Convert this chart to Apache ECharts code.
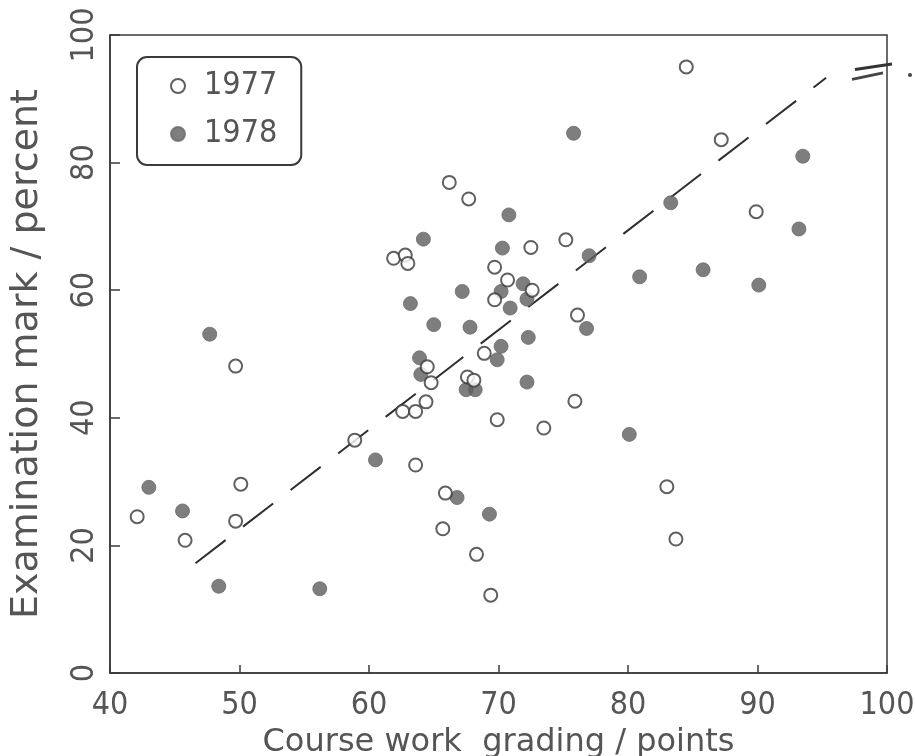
<!DOCTYPE html>
<html>
<head>
<meta charset="utf-8">
<script src="https://cdn.jsdelivr.net/npm/echarts@6/dist/echarts.min.js"></script>
<style>
  html, body { margin: 0; padding: 0; background: #ffffff; }
  #chart { width: 915px; height: 756px; }
</style>
</head>
<body>
<div id="chart"></div>
<script>
// Axis ticks
const xTicks = [40, 50, 60, 70, 80, 90, 100];
const yTicks = [0, 20, 40, 60, 80, 100];

// 1977 cohort: course work grading (points) and examination mark (percent)
const grades1977 = [42.1, 45.8, 49.7, 50.1, 49.7, 58.9, 62.6, 63.6, 64.4, 64.8,
                    64.5, 63.6, 61.9, 62.8, 63.0, 66.2, 67.7, 65.9, 65.7, 68.3,
                    69.4, 69.9, 67.6, 68.1, 68.9, 69.7, 70.7, 72.6, 69.7, 72.5,
                    75.2, 76.1, 75.9, 73.5, 83.0, 83.7, 84.5, 87.2, 89.9];
const marks1977  = [24.5, 20.8, 23.8, 29.6, 48.1, 36.5, 41.0, 41.0, 42.5, 45.5,
                    48.0, 32.6, 65.0, 65.5, 64.2, 76.9, 74.3, 28.2, 22.6, 18.6,
                    12.2, 39.7, 46.4, 45.9, 50.1, 63.6, 61.6, 60.0, 58.5, 66.7,
                    67.9, 56.1, 42.6, 38.4, 29.2, 21.0, 95.0, 83.6, 72.3];

// 1978 cohort
const grades1978 = [43.0, 45.6, 48.4, 47.7, 56.2, 60.5, 63.2, 64.2, 65.0, 67.2,
                    67.8, 63.9, 64.0, 67.5, 68.2, 70.2, 69.9, 66.8, 69.3, 70.3,
                    70.8, 70.2, 71.9, 72.2, 70.9, 72.3, 72.2, 75.8, 77.0, 76.8,
                    80.1, 80.9, 83.3, 85.8, 90.1, 93.2, 93.5];
const marks1978  = [29.1, 25.4, 13.6, 53.1, 13.2, 33.4, 57.9, 68.0, 54.6, 59.8,
                    54.2, 49.4, 46.8, 44.4, 44.4, 51.2, 49.1, 27.5, 24.9, 66.6,
                    71.8, 59.8, 61.0, 58.6, 57.2, 52.6, 45.6, 84.6, 65.4, 54.0,
                    37.4, 62.1, 73.7, 63.2, 60.8, 69.6, 81.0];

// Fitted trend line end points
const fitGrades = [46.6, 95.3];
const fitMarks  = [17.2, 93.3];

const pairs = (xs, ys) => xs.map((x, i) => [x, ys[i]]);

const INK = '#3a3a3a';
const TEXT = '#555555';
const NUM_FONT = "'Liberation Sans Narrow', 'DejaVu Sans Condensed', 'Liberation Sans', sans-serif";
const WORD_FONT = "'DejaVu Sans', 'Liberation Sans', sans-serif";

const chart = echarts.init(document.getElementById('chart'), null, { renderer: 'canvas' });

chart.setOption({
  animation: false,
  backgroundColor: '#ffffff',
  grid: {
    left: 110, top: 35, right: 28, bottom: 83,
    outerBoundsMode: 'none',
    show: true, borderColor: INK, borderWidth: 1.5, backgroundColor: 'transparent'
  },
  legend: {
    left: 137, top: 57,
    orient: 'vertical',
    data: ['1977', '1978'],
    itemWidth: 14, itemHeight: 14,
    itemGap: 16,
    padding: [13, 24, 15, 33],
    borderColor: INK, borderWidth: 2, borderRadius: 10,
    textStyle: { fontFamily: NUM_FONT, fontSize: 32, color: TEXT, padding: [0, 0, 0, 14] }
  },
  xAxis: {
    type: 'value', min: xTicks[0], max: xTicks[xTicks.length - 1], interval: 10,
    name: 'Course work  grading / points',
    nameLocation: 'middle', nameGap: 54,
    nameTextStyle: { fontFamily: WORD_FONT, fontSize: 32, color: TEXT },
    axisLine: { show: true, lineStyle: { color: INK, width: 1.5 } },
    axisTick: { show: true, inside: true, length: 8, lineStyle: { color: INK, width: 1.5 } },
    axisLabel: { fontFamily: NUM_FONT, fontSize: 32, color: TEXT, margin: 17 },
    splitLine: { show: false }
  },
  yAxis: {
    type: 'value', min: yTicks[0], max: yTicks[yTicks.length - 1], interval: 20,
    name: 'Examination mark / percent',
    nameLocation: 'middle', nameGap: 64,
    nameTextStyle: { fontFamily: WORD_FONT, fontSize: 38, color: TEXT },
    axisLine: { show: true, lineStyle: { color: INK, width: 1.5 } },
    axisTick: { show: true, inside: true, length: 10, lineStyle: { color: INK, width: 1.5 } },
    axisLabel: { fontFamily: NUM_FONT, fontSize: 32, color: TEXT, margin: 9, rotate: 90 },
    splitLine: { show: false }
  },
  series: [
    {
      name: 'trend', type: 'line', silent: true, z: 1,
      data: pairs(fitGrades, fitMarks),
      showSymbol: false, symbol: 'none',
      lineStyle: { color: '#2e2e2e', width: 2, type: [38, 22] }
    },
    {
      name: '1977', type: 'scatter', z: 3,
      data: pairs(grades1977, marks1977),
      symbol: 'circle', symbolSize: 13,
      itemStyle: { color: '#ffffff', borderColor: '#383838', borderWidth: 2 }
    },
    {
      name: '1978', type: 'scatter', z: 2,
      data: pairs(grades1978, marks1978),
      symbol: 'circle', symbolSize: 14,
      itemStyle: { color: '#5e5e5e', borderColor: '#6a6a6a', borderWidth: 1 }
    }
  ]
});

// Axis break mark on the right edge near the top
const p = chart.convertToPixel({ xAxisIndex: 0, yAxisIndex: 0 }, [100, 95]);
chart.setOption({
  graphic: [
    { type: 'line', shape: { x1: p[0] - 32, y1: p[1] + 2.5, x2: p[0] + 5, y2: p[1] - 3 },
      style: { stroke: '#333', lineWidth: 3 }, silent: true },
    { type: 'line', shape: { x1: p[0] - 35, y1: p[1] + 12.5, x2: p[0] - 4, y2: p[1] + 6 },
      style: { stroke: '#444', lineWidth: 3 }, silent: true },
    { type: 'circle', shape: { cx: p[0] + 23, cy: p[1] + 8, r: 2 },
      style: { fill: '#444' }, silent: true }
  ]
});
</script>
</body>
</html>
